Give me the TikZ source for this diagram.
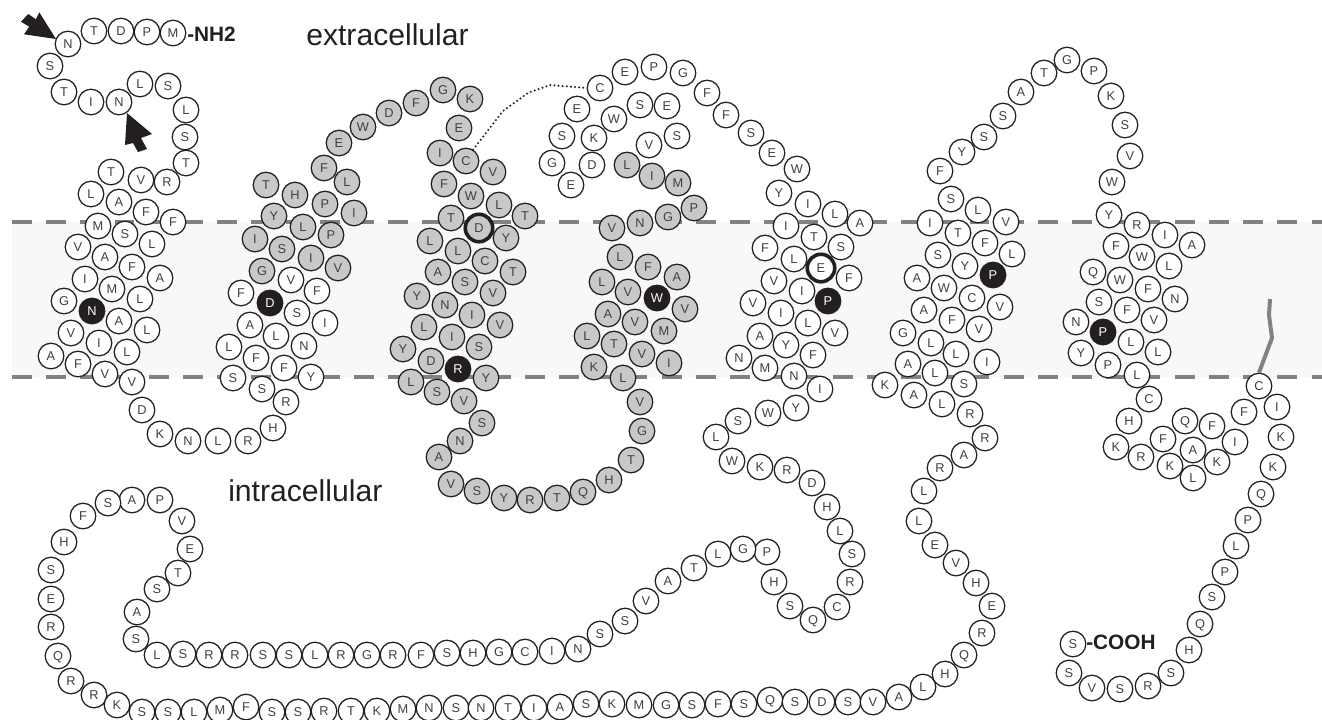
\documentclass[tikz,border=0pt]{standalone}
\usepackage{fontspec}
\setmainfont{Liberation Sans}
\definecolor{inkc}{HTML}{231F20}
\definecolor{labc}{HTML}{404041}
\definecolor{residuegray}{HTML}{C7C8CA}
\definecolor{dashgray}{HTML}{808285}
\definecolor{bandgray}{HTML}{F8F8F8}
\tikzset{
  res/.style={circle,draw=inkc,line width=0.95pt,minimum size=19.2pt,inner sep=0pt,
    font=\fontsize{9.6}{10}\selectfont,text=labc,text height=6.9pt,text depth=0pt,fill=white},
  wres/.style={res},
  gres/.style={res,fill=residuegray},
  bres/.style={res,fill=inkc,text=white},
  thickres/.style={line width=2.7pt,minimum size=20.6pt},
  membrane/.style={dashgray,line width=3.6pt,dash pattern=on 14.8pt off 10.85pt},
  bigtext/.style={font=\fontsize{22.6}{24}\selectfont,text=inkc,inner sep=0pt,anchor=base west},
  endtext/.style={font=\fontsize{15.6}{17}\bfseries\selectfont,text=inkc,inner sep=0pt,anchor=base west},
  disulfide/.style={inkc,line width=1.7pt,line cap=round,dash pattern=on 0pt off 3.1pt},
  tail/.style={dashgray,line width=3pt,line join=round}
}
\begin{document}
\begin{tikzpicture}[x=0.75pt,y=-0.75pt]
\useasboundingbox (0,0) rectangle (1322,719);
% membrane
\fill[bandgray] (12,222) rectangle (1322,377);
\coordinate (m1a) at (12,222); \coordinate (m1b) at (1322,222);
\coordinate (m2a) at (12,377); \coordinate (m2b) at (1322,377);
\draw[membrane] (m1a) -- (m1b);
\draw[membrane] (m2a) -- (m2b);
% white residues
\foreach \x/\y/\l [count=\i] in {
173/33/M,147/32/P,121/31/D,94/31/T,68/44/N,50/66/S,64/92/T,91/102/I,119/102/N,140/84/L,168/86/S,186/110/L,185/137/S,186/163/T,167/182/R,141/180/V,111/172/T,91/194/L,119/202/A,146/212/F,173/222/F,98/226/M,125/234/S,152/244/L,78/247/V,105/257/A,132/267/F,160/278/A,85/279/I,112/289/M,140/299/L,64/301/G,119/321/A,147/330/L,71/333/V,99/343/I,127/352/L,51/356/A,78/364/F,105/374/V,132/382/V,142/410/D,160/434/K,188/441/N,218/441/L,248/441/R,273/428/H,286/402/R,311/377/Y,262/389/S,233/378/S,284/368/F,304/346/N,256/358/F,229/347/L,276/336/L,325/323/I,250/325/A,297/313/S,241/293/F,317/291/F,291/280/V,
625/72/E,654/67/P,683/73/G,707/93/F,726/115/F,751/133/S,772/153/E,797/169/W,779/193/Y,808/204/I,835/214/L,860/223/A,786/226/I,814/237/T,841/247/S,765/248/F,794/259/L,849/278/F,774/281/V,802/291/I,753/303/V,781/313/I,808/323/L,835/333/V,760/336/A,786/345/Y,813/355/F,739/358/N,765/368/M,794/376/N,820/389/I,796/408/Y,768/413/W,738/421/S,716/437/L,732/461/W,760/467/K,787/470/R,812/483/D,827/507/H,840/531/L,852/554/S,850/582/R,837/607/C,813/620/Q,790/606/S,774/582/H,767/552/P,743/549/G,718/554/L,694/568/T,668/581/A,646/601/V,625/621/S,600/634/S,578/649/N,552/651/I,525/652/C,499/652/G,473/653/H,447/653/S,421/655/F,393/655/R,367/655/G,341/655/R,315/655/L,289/655/S,263/655/S,235/655/R,209/655/R,183/654/S,157/655/L,136/639/S,137/612/A,157/589/S,178/573/T,190/549/E,182/521/V,160/500/P,132/500/A,108/503/S,83/516/F,64/542/H,51/570/S,51/599/E,51/627/R,58/656/Q,71/681/R,94/695/R,117/705/K,142/712/S,168/712/S,194/712/L,220/710/M,246/707/F,272/712/S,298/712/S,324/711/R,351/711/T,377/711/K,403/709/M,429/708/N,456/708/S,481/708/N,508/708/T,534/708/I,560/707/A,586/704/S,612/704/K,639/705/M,666/705/G,692/705/S,718/704/F,744/704/S,770/700/Q,795/702/S,822/702/D,848/702/S,873/702/V,899/697/A,923/687/L,945/674/H,964/655/Q,982/633/R,992/606/E,976/583/H,956/563/V,935/545/E,919/521/L,924/491/L,940/468/R,964/455/A,985/438/R,970/414/R,942/404/L,914/395/A,964/384/S,885/385/K,935/373/L,908/364/A,987/362/I,956/354/L,931/343/L,979/329/V,903/333/G,952/320/F,924/310/A,1000/307/V,972/298/C,944/288/W,917/278/A,965/266/Y,938/255/S,1012/254/L,985/243/F,958/233/T,1006/222/V,978/210/L,930/223/I,951/199/S,940/171/F,962/152/Y,984/137/S,1003/116/S,1021/92/A,1044/73/T,1067/60/G,1094/71/P,1111/96/K,1125/125/S,1130/156/V,1112/182/W,1109/215/Y,1137/225/R,1165/235/I,1192/245/A,1116/246/F,1142/257/W,1169/266/L,1093/272/Q,1120/280/W,1148/289/F,1175/299/N,1099/302/S,1127/310/F,1154/320/V,1076/322/N,1131/342/L,1158/352/L,1081/353/Y,1108/365/P,1137/375/L,1149/399/C,1129/421/H,1116/447/K,1141/457/R,1163/439/F,1170/466/K,1193/450/A,1185/421/Q,1193/478/L,1212/426/F,1217/462/K,1235/442/I,1244/412/F,1277/407/I,1281/437/K,1273/467/K,1261/494/Q,1248/520/P,1236/546/L,1225/572/P,1212/597/S,1200/624/Q,1189/650/H,1171/673/S,1148/686/R,1120/689/S,1092/688/V,1069/673/S,
577/109/E,614/119/W,640/105/S,667/106/E,562/136/S,594/138/K,649/145/V,677/136/S,552/163/G,592/165/D,571/185/E}
  \node[wres] (w\i) at (\x,\y) {\l};
\node[wres] (cys2) at (600,88) {C};
\node[wres] (cter) at (1259,386) {C};
\node[wres] (last) at (1073,644) {S};
% grey residues
\foreach \x/\y/\l [count=\i] in {
262/271/G,338/268/V,311/258/I,282/249/S,255/239/I,331/235/P,303/227/L,266/185/T,295/195/H,274/216/Y,325/204/P,354/213/I,347/182/L,324/168/F,339/143/E,363/127/W,389/113/D,416/103/F,443/90/G,470/99/K,459/128/E,440/153/I,493/172/V,444/184/F,471/196/W,499/205/L,525/216/T,451/218/T,506/238/Y,430/241/L,458/251/L,485/261/C,513/272/T,438/272/A,465/282/S,493/293/V,417/296/Y,445/305/N,472/315/I,500/325/V,424/327/L,452/337/I,479/347/S,403/349/Y,431/361/D,486/378/Y,411/382/L,437/392/S,464/401/V,482/423/S,460/441/N,439/457/A,451/484/V,477/491/S,504/498/Y,530/500/R,557/498/T,583/492/Q,609/480/H,631/460/T,642/431/G,640/402/V,623/378/L,594/367/K,669/363/I,642/354/V,614/344/T,587/336/L,664/331/M,635/322/V,608/314/A,685/309/V,628/292/V,602/282/L,677/277/A,648/267/F,620/257/L,612/228/V,640/223/N,668/217/G,694/208/P,678/183/M,652/176/I,627/165/L}
  \node[gres] (g\i) at (\x,\y) {\l};
\node[gres] (cys1) at (466,161) {C};
\node[gres,thickres] (thickD) at (479,228) {D};
\node[wres,thickres] (thickE) at (821,268) {E};
% black residues
\node[bres] (b1) at (92,311) {N};
\node[bres] (b2) at (270,303) {D};
\node[bres] (b3) at (458,369) {R};
\node[bres] (b4) at (657,298) {W};
\node[bres] (b5) at (828,301) {P};
\node[bres] (b6) at (993,275) {P};
\node[bres] (b7) at (1103,332) {P};
% connectors
\draw[disulfide] (cys1.58) -- (503,111) -- (528,93) -- (550,85) -- (cys2.west);
\coordinate (tailend) at (1270,299);
\draw[tail] (cter.north) -- (1272,338) -- (1269,315) -- (tailend);
% arrows
\fill[inkc] (56,39) -- (39.3,12.3) -- (36,19.3) -- (28.3,14) -- (21,21.7) -- (29.3,26.7) -- (24,34.3) -- cycle;
\fill[inkc] (127,113) -- (152,134) -- (141,138) -- (147,149) -- (138,152) -- (133,143) -- (125,145) -- cycle;
% labels
\node[endtext] (nh) at (187,41) {-NH2};
\node[endtext] (cooh) at (1086,649) {-COOH};
\node[bigtext] (extra) at (306,45) {extracellular};
\node[bigtext] (intra) at (228,501) {intracellular};
\end{tikzpicture}
\end{document}
